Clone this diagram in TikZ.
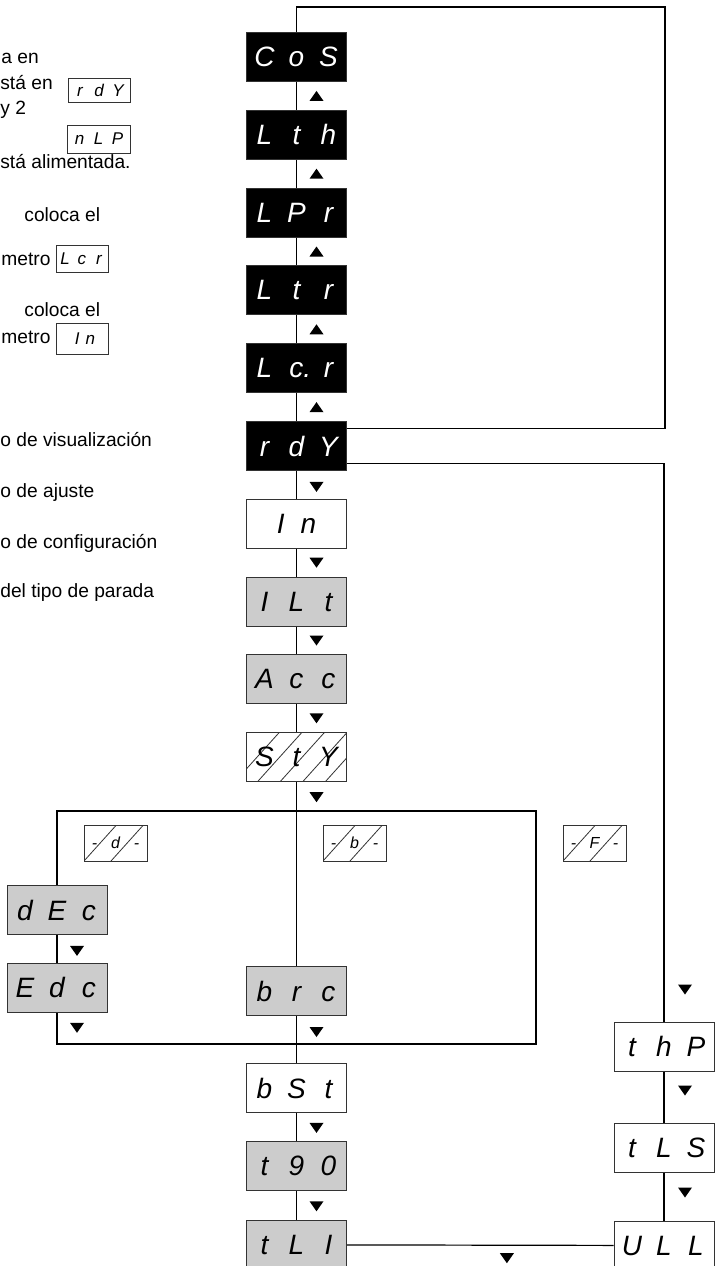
\documentclass[tikz,border=0pt]{standalone}
\usepackage{fontspec}
\setmainfont{Liberation Sans}
\usetikzlibrary{positioning,calc}
\definecolor{panelgrey}{RGB}{204,204,204}
\newcommand\segs[4][16pt]{\makebox[#1]{#2}\makebox[#1]{#3}\makebox[#1]{#4}}

\begin{document}
\begin{tikzpicture}[x=0.5pt, y=-0.5pt, node distance=38.9pt]
% Define block styles
\tikzstyle{disp} = [rectangle, draw=black!80, line width=0.5pt,
    minimum width=50pt, minimum height=24.5pt, inner sep=0pt,
    font=\fontsize{14}{14}\selectfont\itshape]
\tikzstyle{run} = [disp, fill=black, text=white]
\tikzstyle{adj} = [disp, fill=white]
\tikzstyle{conf} = [disp, fill=panelgrey]
\tikzstyle{chip} = [rectangle, draw=black!80, line width=0.5pt, fill=white,
    inner sep=0pt, font=\fontsize{8.5}{8.5}\selectfont\itshape]
\tikzstyle{tag} = [chip, minimum width=31.5pt, minimum height=18pt,
    font=\fontsize{8}{8}\selectfont\itshape]
\tikzstyle{note} = [anchor=base west, inner sep=0pt,
    font=\fontsize{9.6}{11}\selectfont]
\tikzstyle{line} = [draw, line width=0.6pt]
\tikzset{hatch/.style={path picture={\foreach \o in {#1}
    \draw[line width=0.4pt] ([xshift=\o pt]path picture bounding box.south west) -- ++(48:60pt);}},
  triup/.pic={\fill (-7,5) -- (7,5) -- (0,-5) -- cycle;},
  tridown/.pic={\fill (-7,-5) -- (7,-5) -- (0,5) -- cycle;}}
\useasboundingbox (0,0) rectangle (718,1266);

    % Side text
    \node [note] (ta) at (1,63) {a en};
    \node [note] (tb) at (0,89) {stá en};
    \node [note] (tc) at (0,114) {y 2};
    \node [note] (td) at (0,168) {stá alimentada.};
    \node [note] (te) at (24,221) {coloca el};
    \node [note] (tf) at (1,265) {metro};
    \node [note] (tg) at (24,316) {coloca el};
    \node [note] (th) at (1,343) {metro};
    \node [note] (ti) at (0,446) {o de visualización};
    \node [note] (tj) at (0,497) {o de ajuste};
    \node [note] (tk) at (0,548) {o de configuración};
    \node [note] (tl) at (0,597) {del tipo de parada};
    \node [chip, minimum width=31pt, minimum height=12pt] (crdy) at (99,90) {\segs[9.5pt]{r}{d}{Y}};
    \node [chip, minimum width=31.5pt, minimum height=14pt] (cnlp) at (98.5,139) {\segs[9.5pt]{n}{L}{P}};
    \node [chip, minimum width=26pt, minimum height=13.5pt] (clcr) at (82,258.5) {\segs[8.5pt]{L}{c}{r}};
    \node [chip, minimum width=26pt, minimum height=15.5pt] (cin) at (82,338.5) {\hspace*{3pt}I\hspace{3pt}n};

    % Place nodes
    \node [run] (cos) at (296.5,57) {\segs{C}{o}{S}};
    \node [run, below of=cos] (lth) {\segs{L}{t}{h}};
    \node [run, below of=lth] (lpr) {\segs{L}{P}{r}};
    \node [run, below of=lpr] (ltr) {\segs{L}{t}{r}};
    \node [run, below of=ltr] (lcr) {\segs{L}{c\rlap{.}}{r}};
    \node [run, below of=lcr] (rdy) {\segs{r}{d}{Y}};
    \node [adj, below of=rdy] (inom) {I\hspace{8pt}n};
    \node [conf, below of=inom] (ilt) {\segs{I}{L}{t}};
    \node [conf, below of=ilt] (acc) {\segs{A}{c}{c}};
    \node [adj, hatch={-5.8,5.5,16.8,28.1,39.4}, below of=acc] (sty) {\segs{S}{t}{Y}};
    \node [tag, hatch={0,13.5}] (optd) at (115.5,843) {\segs[10.5pt]{-}{d}{-}};
    \node [tag, hatch={0,13.5}] (optb) at (354.5,843) {\segs[10.5pt]{-}{b}{-}};
    \node [tag, hatch={0,13.5}] (optf) at (594.5,843) {\segs[10.5pt]{-}{F}{-}};
    \node [conf] (dec) at (57,910) {\segs{d}{E}{c}};
    \node [conf, below of=dec] (edc) {\segs{E}{d}{c}};
    \node [conf] (brc) at (296.5,991) {\segs{b}{r}{c}};
    \node [adj, below of=brc, node distance=48.5pt] (bst) {\segs{b}{S}{t}};
    \node [conf, below of=bst] (t90) {\segs{t}{9}{0}};
    \node [conf, below of=t90, node distance=39.5pt] (tli) {\segs{t}{L}{I}};
    \node [adj] (thp) at (664,1046.5) {\segs{t}{h}{P}};
    \node [adj, below of=thp, node distance=50.5pt] (tls) {\segs{t}{L}{S}};
    \node [adj, below of=tls, node distance=49pt] (ull) {\segs{U}{L}{L}};
    \coordinate (looptop) at (665,7);
    \coordinate (frametl) at (57,811);
    \coordinate (framebr) at (536,1044);

    % Draw edges
    \path [line] (cos) -- (lth) -- (lpr) -- (ltr) -- (lcr) -- (rdy) -- (inom)
        -- (ilt) -- (acc) -- (sty) -- (brc) -- (bst) -- (t90) -- (tli);
    \path [line] (cos.north) |- (looptop) |- ([yshift=8.75pt]rdy.east);
    \path [line] ([yshift=-8.75pt]rdy.east) -| (thp.north);
    \path [line] (dec.north) -- (frametl) -- (framebr |- frametl) -- (framebr)
        -- (edc.south |- framebr) -- (edc.south);
    \path [line] (dec) -- (edc);
    \path [line] (thp) -- (tls) -- (ull);
    \path [line] (tli) -- (ull);

    % Direction marks
    \pic at ($(cos)!.5!(lth)+(20,0)$) {triup};
    \pic at ($(lth)!.5!(lpr)+(20,0)$) {triup};
    \pic at ($(lpr)!.5!(ltr)+(20,0)$) {triup};
    \pic at ($(ltr)!.5!(lcr)+(20,0)$) {triup};
    \pic at ($(lcr)!.5!(rdy)+(20,0)$) {triup};
    \pic at ($(rdy)!.5!(inom)+(20,2)$) {tridown};
    \pic at ($(inom)!.5!(ilt)+(20,0)$) {tridown};
    \pic at ($(ilt)!.5!(acc)+(20,0)$) {tridown};
    \pic at ($(acc)!.5!(sty)+(20,0)$) {tridown};
    \pic at ($(sty.south)+(20,15)$) {tridown};
    \pic at ($(dec)!.5!(edc)+(20,2)$) {tridown};
    \pic at ($(edc.south)+(20,15)$) {tridown};
    \pic at ($(brc.south)+(20,16)$) {tridown};
    \pic at ($(bst)!.5!(t90)+(20,1)$) {tridown};
    \pic at ($(t90)!.5!(tli)+(20,1)$) {tridown};
    \pic at ($(thp.north)+(21,-32)$) {tridown};
    \pic at ($(thp.south)+(21,19)$) {tridown};
    \pic at ($(tls.south)+(21,20)$) {tridown};
    \pic at ($(tli.east)!.6!(ull.west)+(0,13)$) {tridown};
\end{tikzpicture}
\end{document}
